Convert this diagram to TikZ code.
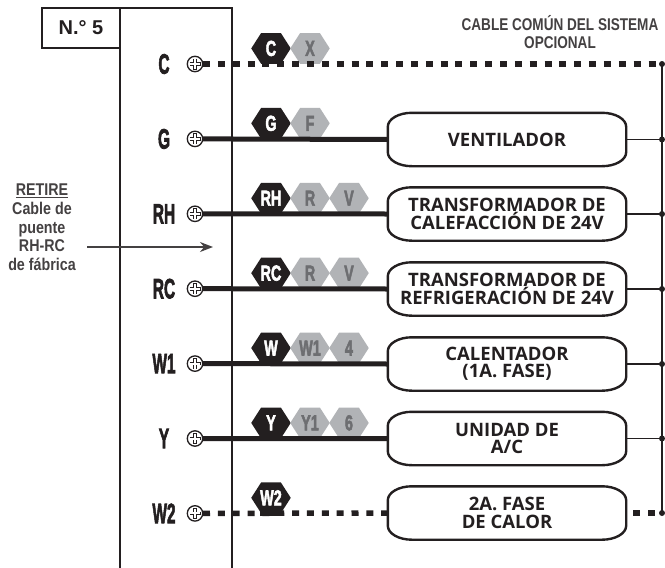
\documentclass[tikz,border=0pt]{standalone}
\usepackage{fontspec}
\setmainfont{Liberation Sans}
\newfontfamily\boxfont{Open Sans}
\newfontfamily\heavyfont[FakeBold=3]{Liberation Sans Bold}
\usetikzlibrary{shapes.geometric}
\usetikzlibrary{matrix}
\usetikzlibrary{arrows.meta}
\definecolor{ink}{HTML}{231F20}
\definecolor{hexgray}{HTML}{B1B3B6}
\definecolor{txtgray}{HTML}{6D6E71}
\tikzset{
  wire/.style={ink,line width=5pt},
  dotwire/.style={ink,line width=5.5pt,dash pattern=on 7pt off 7.85pt},
  thinwire/.style={ink,line width=1.3pt},
  term/.style={font=\heavyfont\fontsize{28}{28}\selectfont,xscale=.55,text=ink,inner sep=0pt,anchor=center},
  screw/.style={circle,minimum size=16pt,inner sep=0pt,anchor=center},
  hexdark/.style={regular polygon,regular polygon sides=6,minimum size=39.5pt,yscale=.9,
    inner sep=0pt,anchor=south,fill=ink,text=white,font=\heavyfont\fontsize{24}{24}\selectfont},
  hexlight/.style={hexdark,fill=hexgray,text=txtgray},
  unit/.style={minimum width=238pt,minimum height=53pt,inner sep=0pt,align=center,text=ink,
    font=\boxfont\bfseries\fontsize{18.5}{17.5}\selectfont},
  busdot/.style={circle,fill=ink,minimum size=6pt,inner sep=0pt},
  note/.style={font=\bfseries\fontsize{17}{18.7}\selectfont,text=ink!85,align=center,xscale=.84}
}
\newcommand{\nar}[1]{\scalebox{.6}[1]{#1}}
\begin{document}
\begin{tikzpicture}[x=1pt,y=-1pt]
\useasboundingbox (0,0) rectangle (665,568);
\fill[white] (0,0) rectangle (665,568);
\draw[ink,line width=1.4pt] (120,568) -- (120,8) -- (232,8) -- (232,568);
\node[draw=ink,line width=1.4pt,minimum width=78pt,minimum height=40pt,inner sep=0pt,
  font=\bfseries\fontsize{20}{20}\selectfont,text=ink] (num) at (81,28) {N.° 5};
\matrix (rows) [matrix of nodes,nodes={inner sep=0pt},at={(195,64)},matrix anchor=sC.center,
row sep={74.9pt,between origins},column sep={31pt,between origins}]
{
|[term](lC)|{C} & |[screw](sC)|{} &[45pt] |[hexdark]|{\nar{C}} &[8pt] |[hexlight]|{\nar{X}} &[8pt] {} \\
|[term](lG)|{G} & |[screw](sG)|{} & |[hexdark]|{\nar{G}} & |[hexlight]|{\nar{F}} & {} \\
|[term](lRH)|{RH} & |[screw](sRH)|{} & |[hexdark]|{\nar{RH}} & |[hexlight]|{\nar{R}} & |[hexlight]|{\nar{V}} \\
|[term](lRC)|{RC} & |[screw](sRC)|{} & |[hexdark]|{\nar{RC}} & |[hexlight]|{\nar{R}} & |[hexlight]|{\nar{V}} \\
|[term](lWa)|{W1} & |[screw](sWa)|{} & |[hexdark]|{\nar{W}} & |[hexlight]|{\nar{W1}} & |[hexlight]|{\nar{4}} \\
|[term](lY)|{Y} & |[screw](sY)|{} & |[hexdark]|{\nar{Y}} & |[hexlight]|{\nar{Y1}} & |[hexlight]|{\nar{6}} \\
|[term](lWb)|{W2} & |[screw](sWb)|{} & |[hexdark](hWb)|{\nar{W2}} & {} & {} \\
};
% load boxes
\node[unit] (vent) at (507,139.5) {VENTILADOR};
\node[unit] (heat) at (507,214) {TRANSFORMADOR DE\\[1pt]CALEFACCIÓN DE 24V};
\node[unit] (cool) at (507,289) {TRANSFORMADOR DE\\[1pt]REFRIGERACIÓN DE 24V};
\node[unit] (cale) at (507,364) {CALENTADOR\\(1A. FASE)};
\node[unit] (acon) at (507,438.5) {UNIDAD DE\\A/C};
\node[unit] (fase) at (507,513) {2A. FASE\\DE CALOR};
\foreach \b in {vent,heat,cool,cale,acon,fase}
  \draw[ink,line width=2.4pt] ([yshift=-14pt]\b.north west) arc[start angle=180,end angle=90,x radius=24pt,y radius=14pt]
    -- ([xshift=-24pt]\b.north east) arc[start angle=90,end angle=0,x radius=24pt,y radius=14pt]
    -- ([yshift=14pt]\b.south east) arc[start angle=0,end angle=-90,x radius=24pt,y radius=14pt]
    -- ([xshift=24pt]\b.south west) arc[start angle=-90,end angle=-180,x radius=24pt,y radius=14pt]
    -- cycle;
% common bus
\node[busdot] (bC) at (662,64) {};
\node[busdot] (bG) at (662,139.5) {};
\node[busdot] (bRH) at (662,214) {};
\node[busdot] (bRC) at (662,289) {};
\node[busdot] (bWa) at (662,364) {};
\node[busdot] (bY) at (662,438.5) {};
\node[busdot] (bWb) at (662,513) {};
\draw[thinwire,line width=2pt] (bC.center) -- (bWb.center);
\draw[dotwire] ([xshift=8pt]sC.center) -- (bC.center);
\draw[wire] (sG.east) -- (vent.west);
\draw[wire] (sRH.east) -- (heat.west);
\draw[wire] (sRC.east) -- (cool.west);
\draw[wire] (sWa.east) -- (cale.west);
\draw[wire] (sY.east) -- (acon.west);
\draw[dotwire] ([xshift=8pt]sWb.center) -- (fase.west);
\draw[wire,line width=5.5pt] ([xshift=-11pt]hWb.south) -- ([xshift=11pt]hWb.south);
\draw[dotwire,dash phase=7.85pt] (fase.east) -- (bWb.center);
\draw[thinwire] (vent.east) -- (bG.center);
\draw[thinwire] (heat.east) -- (bRH.center);
\draw[thinwire] (cool.east) -- (bRC.center);
\draw[thinwire] (cale.east) -- (bWa.center);
\draw[thinwire] (acon.east) -- (bY.center);
% screw heads
\foreach \s in {sC,sG,sRH,sRC,sWa,sY,sWb} {
  \draw[ink,line width=1.3pt,fill=white] (\s.center) circle (7.7pt);
  \draw[ink,line width=3.6pt] (\s.center) +(-5.5,0) -- +(5.5,0) +(0,-5.5) -- +(0,5.5);
  \draw[white,line width=2pt] (\s.center) +(-4.9,0) -- +(4.9,0) +(0,-4.9) -- +(0,4.9);
}
\node[note,text=ink!85,xscale=.95] (cable) at (560,32) {CABLE COMÚN DEL SISTEMA\\OPCIONAL};
\node[note] (retire) at (42,227.5) {\underline{RETIRE}\\Cable de\\puente\\RH-RC\\de fábrica};
\coordinate (jump) at (213,247);
\draw[ink!85,line width=1.6pt,-{Stealth[length=13pt,width=10pt]}] (87,247) -- (jump);
\end{tikzpicture}
\end{document}
